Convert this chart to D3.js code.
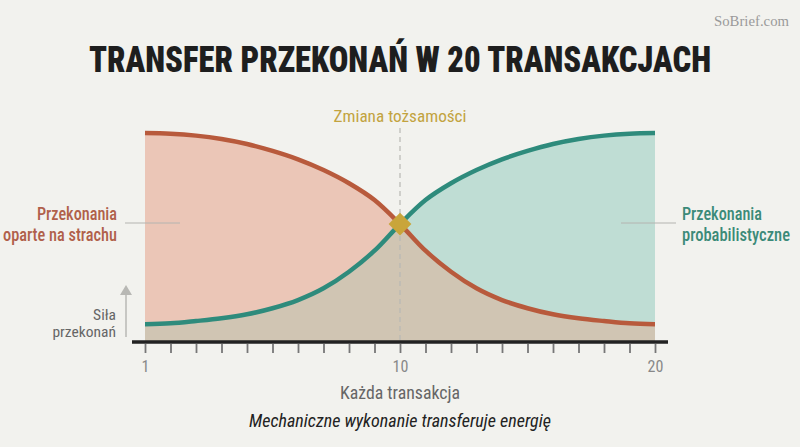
<!DOCTYPE html>
<html>
<head>
<meta charset="utf-8">
<script src="https://cdn.jsdelivr.net/npm/d3@7"></script>
<style>
  body { margin: 0; background: #f2f2ee; }
  svg { display: block; }
</style>
</head>
<body>
<div id="chart"></div>
<script>
// transactions 0..20 on the axis (labels 1, 10, 20)
var steps = d3.range(0, 21);
var tickLabels = {0: '1', 10: '10', 20: '20'};

// belief strength (0 = baseline)
var fearBeliefs = [99, 98.7, 97.8, 96.2, 93.8, 90.5, 86.5, 81.4, 75.1, 67.1, 55.7,
                   43, 33, 25.1, 19.5, 15.6, 12.7, 10.8, 9.5, 8.4, 8];
var probBeliefs = [8, 8.4, 9.5, 10.8, 12.7, 15.6, 19.5, 25.1, 33, 43, 55.7,
                   67.1, 75.1, 81.4, 86.5, 90.5, 93.8, 96.2, 97.8, 98.7, 99];
var switchStep = 10;

var width = 800, height = 447;
var font = "'Roboto Condensed', 'Liberation Sans Narrow', Roboto, sans-serif";

var svg = d3.select('#chart').append('svg')
    .attr('width', width)
    .attr('height', height);

svg.append('rect').attr('width', width).attr('height', height).attr('fill', '#f2f2ee');

var x = d3.scaleLinear().domain([0, 20]).range([145, 655]);
var y = d3.scaleLinear().domain([0, 100]).range([341, 131]);

var data = steps.map(function (s, i) {
    return {step: s, fear: fearBeliefs[i], prob: probBeliefs[i]};
});

var curve = d3.curveMonotoneX;

function areaFor(acc) {
    return d3.area()
        .x(function (d) { return x(d.step); })
        .y0(y(0))
        .y1(function (d) { return y(acc(d)); })
        .curve(curve);
}

svg.append('path').datum(data)
    .attr('d', areaFor(function (d) { return d.fear; }))
    .attr('fill', '#ebc6b7');
svg.append('path').datum(data)
    .attr('d', areaFor(function (d) { return d.prob; }))
    .attr('fill', '#bfddd4');
svg.append('path').datum(data)
    .attr('d', areaFor(function (d) { return Math.min(d.fear, d.prob); }))
    .attr('fill', '#d0c5b3');

// dashed marker line
svg.append('line')
    .attr('x1', x(switchStep)).attr('x2', x(switchStep))
    .attr('y1', 128).attr('y2', y(0))
    .attr('stroke', '#b8b8b4')
    .attr('stroke-width', 1.2)
    .attr('stroke-dasharray', '5,4');

function lineFor(acc) {
    return d3.line()
        .x(function (d) { return x(d.step); })
        .y(function (d) { return y(acc(d)); })
        .curve(curve);
}

svg.append('path').datum(data)
    .attr('d', lineFor(function (d) { return d.fear; }))
    .attr('fill', 'none')
    .attr('stroke', '#b85a3c')
    .attr('stroke-width', 4.5);
svg.append('path').datum(data)
    .attr('d', lineFor(function (d) { return d.prob; }))
    .attr('fill', 'none')
    .attr('stroke', '#2e8b7c')
    .attr('stroke-width', 4.5);

// diamond at the crossing
svg.append('path')
    .attr('d', d3.symbol().type(d3.symbolSquare).size(260)())
    .attr('transform', 'translate(' + x(switchStep) + ',' + y(fearBeliefs[switchStep]) + ') rotate(45)')
    .attr('fill', '#c9a53a');

// x axis
var xAxisCall = d3.axisBottom(x)
    .tickValues(steps)
    .tickSize(9)
    .tickPadding(8)
    .tickFormat(function (d) { return tickLabels[d] || ''; });

var xAxis = svg.append('g')
    .attr('class', 'x-axis')
    .attr('transform', 'translate(0,' + 344 + ')')
    .call(xAxisCall);
xAxis.select('.domain').remove();
xAxis.selectAll('line').attr('stroke', '#777').attr('stroke-width', 1.8);
xAxis.selectAll('text')
    .attr('font-family', font)
    .attr('font-size', '16px')
    .attr('fill', '#888');

svg.append('line')
    .attr('x1', 132).attr('x2', 668)
    .attr('y1', 342).attr('y2', 342)
    .attr('stroke', '#222')
    .attr('stroke-width', 3.5);

// title
svg.append('text')
    .attr('x', 400).attr('y', 72)
    .attr('text-anchor', 'middle')
    .attr('font-family', font)
    .attr('font-weight', 900)
    .attr('font-size', '37px')
    .attr('fill', '#1e1e1e')
    .attr('textLength', 622)
    .attr('lengthAdjust', 'spacingAndGlyphs')
    .text('TRANSFER PRZEKONAŃ W 20 TRANSAKCJACH');

svg.append('text')
    .attr('x', 789).attr('y', 26)
    .attr('text-anchor', 'end')
    .attr('font-family', "'Liberation Serif', serif")
    .attr('font-size', '14px')
    .attr('fill', '#9a9a9a')
    .attr('textLength', 75)
    .attr('lengthAdjust', 'spacingAndGlyphs')
    .text('SoBrief.com');

svg.append('text')
    .attr('x', 400).attr('y', 122)
    .attr('text-anchor', 'middle')
    .attr('font-family', font)
    .attr('font-size', '17px')
    .attr('fill', '#c2a33f')
    .attr('textLength', 133)
    .attr('lengthAdjust', 'spacingAndGlyphs')
    .text('Zmiana tożsamości');

// side labels
function label(lines, xPos, anchor, color, lens) {
    lines.forEach(function (t, i) {
        svg.append('text')
            .attr('x', xPos).attr('y', 220 + i * 21)
            .attr('text-anchor', anchor)
            .attr('font-family', font)
            .attr('font-weight', 500)
            .attr('font-size', '18px')
            .attr('fill', color)
            .attr('textLength', lens[i])
            .attr('lengthAdjust', 'spacingAndGlyphs')
            .text(t);
    });
}
label(['Przekonania', 'oparte na strachu'], 117, 'end', '#b0604a', [80, 114]);
label(['Przekonania', 'probabilistyczne'], 682, 'start', '#3b8a78', [80, 108]);

svg.append('line').attr('x1', 125).attr('x2', 180).attr('y1', 223).attr('y2', 223)
    .attr('stroke', '#b4b4b0').attr('stroke-width', 1);
svg.append('line').attr('x1', 621).attr('x2', 676).attr('y1', 223).attr('y2', 223)
    .attr('stroke', '#b4b4b0').attr('stroke-width', 1);

// y hint
svg.append('line').attr('x1', 126).attr('x2', 126).attr('y1', 337).attr('y2', 292)
    .attr('stroke', '#b8b8b4').attr('stroke-width', 1.5);
svg.append('path').attr('d', 'M126,285 L120,295 L132,295 Z').attr('fill', '#b8b8b4');

['Siła', 'przekonań'].forEach(function (t, i) {
    svg.append('text')
        .attr('x', 116).attr('y', 320 + i * 17)
        .attr('text-anchor', 'end')
        .attr('font-family', font)
        .attr('font-size', '15.5px')
        .attr('fill', '#666')
        .text(t);
});

// x labels
svg.append('text')
    .attr('x', 400).attr('y', 399)
    .attr('text-anchor', 'middle')
    .attr('font-family', font)
    .attr('font-size', '18px')
    .attr('fill', '#666')
    .attr('textLength', 120)
    .attr('lengthAdjust', 'spacingAndGlyphs')
    .text('Każda transakcja');

svg.append('text')
    .attr('x', 400).attr('y', 427)
    .attr('text-anchor', 'middle')
    .attr('font-family', font)
    .attr('font-style', 'italic')
    .attr('font-size', '18px')
    .attr('fill', '#222')
    .attr('textLength', 302)
    .attr('lengthAdjust', 'spacingAndGlyphs')
    .text('Mechaniczne wykonanie transferuje energię');
</script>
</body>
</html>
